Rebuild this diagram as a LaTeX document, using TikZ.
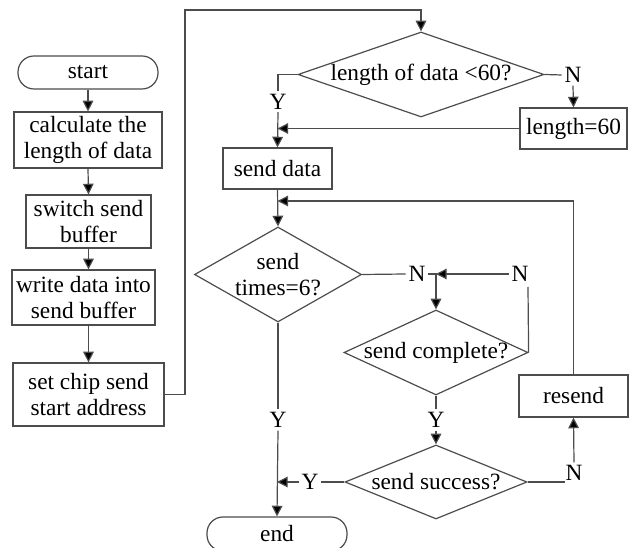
\documentclass[tikz,border=0pt]{standalone}
\usepackage{fontspec}
\setmainfont{Liberation Serif}
\usetikzlibrary{arrows.meta,shapes.geometric}
\begin{document}
\begin{tikzpicture}[x=0.75pt,y=-0.75pt,
  every node/.style={font=\fontsize{17.5}{20}\selectfont, inner sep=0pt},
  sz/.style 2 args={minimum width=#1*0.75pt, minimum height=#2*0.75pt},
  proc/.style={draw=black!70, line width=0.9pt, rectangle, align=center},
  term/.style={draw=black!70, line width=0.9pt, rectangle, rounded corners=12pt},
  dec/.style={draw=black!70, line width=0.9pt, diamond},
  txt/.style={align=center},
  lbl/.style={inner sep=2pt},
  link/.style={draw=black!70, line width=0.9pt},
  flow/.style={link, -{Triangle[length=8pt,width=8pt,fill=black]}},
]
\useasboundingbox (0,0) rectangle (633,548);

% left column
\node[term, sz={140}{33}] (start) at (88,72.5) {start};
\node[proc, sz={148}{56}] (calc) at (88,140) {calculate the\\length of data};
\node[proc, sz={125}{53}] (swbuf) at (88.5,221.5) {switch send\\buffer};
\node[proc, sz={143}{55}] (wrbuf) at (83.5,297.5) {write data into\\send buffer};
\node[proc, sz={151}{63}] (setc) at (88.5,394.5) {set chip send\\start address};

% length check
\node[dec, sz={246}{85}] (d1) at (421,74.5) {};
\node[txt] (d1t) at (d1) {length of data <60?};
\node[lbl] (N1) at (573,75) {N};
\node[lbl] (Y1) at (278,101.5) {Y};
\node[proc, sz={107}{41}] (len) at (573.5,128.5) {length=60};
\node[proc, sz={109}{41}] (send) at (277.5,168.5) {send data};

% send loop
\node[dec, sz={167}{95}] (d2) at (278,274.5) {};
\node[txt] (d2t) at (d2) {send\\times=6?};
\node[lbl] (N2) at (417,274) {N};
\node[lbl] (N3) at (520,274) {N};
\node[dec, sz={184}{85}] (d3) at (436,352.5) {};
\node[txt] (d3t) at (d3) {send complete?};
\node[lbl] (Y2) at (278,420) {Y};
\node[lbl] (Y3) at (436,420) {Y};
\node[dec, sz={182}{74}] (d4) at (436,482) {};
\node[txt] (d4t) at (d4) {send success?};
\node[lbl] (Y4) at (310,482) {Y};
\node[lbl] (N4) at (574,473) {N};
\node[proc, sz={109}{42}] (resend) at (573.5,396) {resend};
\node[term, sz={140}{34}] (end) at (277,534) {end};

% helper points
\coordinate (top) at (185,10);
\coordinate (fb) at (573.5,201);
\coordinate (n3b) at (528,287);
\coordinate (n4l) at (565,482);

% connectors, left column
\draw[flow] (start.south) -- (calc.north);
\draw[flow] (calc.south) -- (swbuf.north);
\draw[flow] (swbuf.south) -- (swbuf.south |- wrbuf.north);
\draw[flow] (wrbuf.south -| setc.north) -- (setc.north);
\draw[flow] (setc.east) -| (top) -| (d1.north);

% connectors, length check
\draw[link] (d1.west) -| (Y1.north);
\draw[flow] (Y1.south) -- (send.north);
\draw[link] (d1.east) -- (N1.west);
\draw[flow] (N1.south) -- (len.north);
\draw[flow] (len.west) -- (len.west -| send.north);

% connectors, send loop
\draw[flow] (send.south) -- (d2.north);
\draw[flow] (resend.north) -- (fb) -- (fb -| send.south);
\draw[link] (d2.east) -- (N2.west);
\draw[flow] (N2.east) -| (d3.north);
\draw[link] (d3.east) -- (n3b);
\draw[flow] (N3.west) -- (N3.west -| d3.north);
\draw[link] (d2.south) -- (Y2.north);
\draw[flow] (Y2.south) -- (end.north);
\draw[link] (d3.south) -- (Y3.north);
\draw[flow] (Y3.south) -- (d4.north);
\draw[link] (d4.west) -- (Y4.east);
\draw[flow] (Y4.west) -- (Y4.west -| end.north);
\draw[link] (d4.east) -- (n4l);
\draw[flow] (N4.north) -- (resend.south);
\end{tikzpicture}
\end{document}
